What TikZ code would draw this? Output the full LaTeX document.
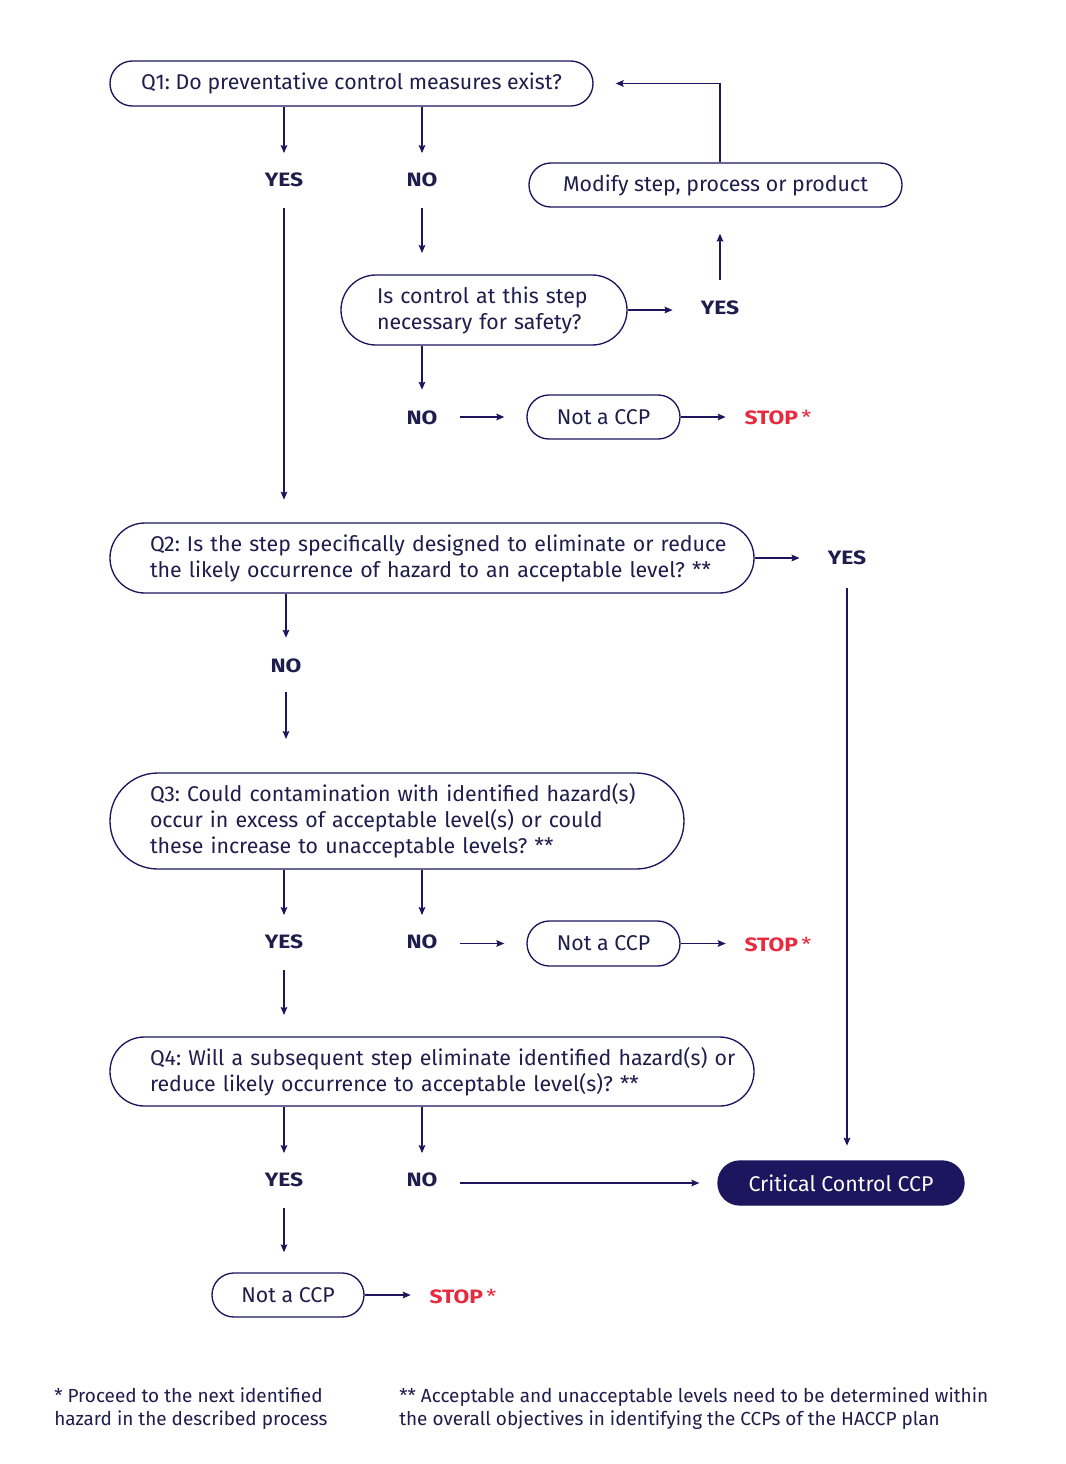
\documentclass[tikz,border=0pt]{standalone}
\usepackage{fontspec}
\setmainfont{Fira Sans}
\newfontfamily\lblfont[FakeStretch=1.18]{Fira Sans}
\usetikzlibrary{arrows.meta}
\definecolor{navy}{HTML}{1B165E}
\definecolor{ink}{HTML}{1E1D4C}
\definecolor{stopred}{HTML}{E8293E}
\newcommand\mainsize{\frenchspacing\fontsize{16pt}{19.5pt}\selectfont}
\newcommand\stoptxt{\textbf{STOP}\,*}
\begin{document}
\begin{tikzpicture}[x=0.75pt,y=-0.75pt,
  box/.style={draw=navy, line width=1pt, text=ink, font=\mainsize, inner sep=0pt},
  leftbox/.style={box, align=left, text width=#1},
  lbl/.style={text=ink, font=\lblfont\fontsize{14.5pt}{17pt}\selectfont\bfseries, inner sep=0pt, text height=10pt, text depth=0pt},
  stoplbl/.style={text=stopred, font=\lblfont\fontsize{14.5pt}{17pt}\selectfont, inner sep=0pt, text height=10pt, text depth=0pt},
  note/.style={text=ink, font=\frenchspacing\fontsize{14.2pt}{17.25pt}\selectfont, align=left, inner sep=0pt, anchor=west},
  arr/.style={draw=navy, line width=1pt, -{Stealth[length=6pt,width=5pt,inset=1pt]}}
]
\fill[white] (0,0) rectangle (1066,1464);
\useasboundingbox (0,0) rectangle (1066,1464);

% boxes
\node[box, minimum width=362.25pt, minimum height=33.75pt, rounded corners=16.8pt] (q1) at (351.5,83.5) {Q1: Do preventative control measures exist?};
\node[box, minimum width=279.75pt, minimum height=33pt, rounded corners=16.4pt] (mod) at (715.5,185) {Modify step, process or product};
\node[leftbox=160.5pt, minimum width=214.5pt, minimum height=52.5pt, rounded corners=26.2pt] (ctl) at (484,310) {\mbox{Is control at this step}\\\mbox{necessary for safety?}};
\node[box, minimum width=114.75pt, minimum height=33pt, rounded corners=16.4pt] (ncp1) at (603.5,417) {Not a CCP};
\node[leftbox=423pt, minimum width=483pt, minimum height=52.5pt, rounded corners=26.2pt] (q2) at (432,558) {\mbox{Q2: Is the step specifically designed to eliminate or reduce}\\\mbox{the likely occurrence of hazard to an acceptable level? **}};
\node[leftbox=370.5pt, minimum width=430.5pt, minimum height=72pt, rounded corners=35.9pt] (q3) at (397,821) {\mbox{Q3: Could contamination with identified hazard(s)}\\\mbox{occur in excess of acceptable level(s) or could}\\\mbox{these increase to unacceptable levels? **}};
\node[box, minimum width=114.75pt, minimum height=33.75pt, rounded corners=16.8pt] (ncp2) at (603.5,943.5) {Not a CCP};
\node[leftbox=423pt, minimum width=483pt, minimum height=51.75pt, rounded corners=25.8pt] (q4) at (432,1071.5) {\mbox{Q4: Will a subsequent step eliminate identified hazard(s) or}\\\mbox{reduce likely occurrence to acceptable level(s)? **}};
\node[box, fill=navy, text=white, minimum width=184.5pt, minimum height=33pt, rounded corners=16.4pt] (ccp) at (841,1183) {Critical Control CCP};
\node[box, minimum width=114pt, minimum height=33pt, rounded corners=16.4pt] (ncp3) at (288,1295) {Not a CCP};

% labels
\node[lbl] (yes1) at (284,180) {YES};
\node[lbl] (no1) at (422,180) {NO};
\node[lbl] (yes2) at (720,308) {YES};
\node[lbl] (no2) at (422,418) {NO};
\node[stoplbl] (stop1) at (778,418) {\stoptxt};
\node[lbl] (yes3) at (847,558) {YES};
\node[lbl] (no3) at (286,666) {NO};
\node[lbl] (yes4) at (284,942) {YES};
\node[lbl] (no4) at (422,942) {NO};
\node[stoplbl] (stop2) at (778,945) {\stoptxt};
\node[lbl] (yes5) at (284,1180) {YES};
\node[lbl] (no5) at (422,1180) {NO};
\node[stoplbl] (stop3) at (463,1297) {\stoptxt};

% footnotes
\node[note] (fn1) at (54,1408.5) {* Proceed to the next identified\\hazard in the described process};
\node[note] (fn2) at (399,1408.5) {** Acceptable and unacceptable levels need to be determined within\\the overall objectives in identifying the CCPs of the HACCP plan};

% connectors
\draw[arr, shorten >=15pt] (yes1 |- q1.south) -- (yes1.north);
\draw[arr, shorten >=15pt] (no1 |- q1.south) -- (no1.north);
\draw[arr, shorten <=16pt, shorten >=17pt] (yes1.south) -- (yes1 |- q2.north);
\draw[arr, shorten <=16pt, shorten >=16pt] (no1.south) -- (no1 |- ctl.north);
\draw[arr, shorten >=21pt] (ctl.east) -- (yes2.west |- ctl.east);
\draw[arr, shorten <=16pt, shorten >=19.5pt] (yes2.north) -- (yes2 |- mod.south);
\draw[arr, shorten >=16.5pt] (yes2 |- mod.north) |- (q1.east);
\draw[arr, shorten >=16pt] (no2 |- ctl.south) -- (no2.north);
\draw[arr, shorten <=16.5pt, shorten >=16.5pt] (no2.east |- ncp1.west) -- (ncp1.west);
\draw[arr, shorten >=14pt] (ncp1.east) -- (stop1.west |- ncp1.east);
\draw[arr, shorten >=21pt] (q2.east) -- (yes3.west |- q2.east);
\draw[arr, shorten <=17pt, shorten >=11pt] (yes3.south) -- (yes3 |- ccp.north);
\draw[arr, shorten >=16pt] (no3 |- q2.south) -- (no3.north);
\draw[arr, shorten <=14pt, shorten >=25pt] (no3.south) -- (no3 |- q3.north);
\draw[arr, shorten >=15pt] (yes4 |- q3.south) -- (yes4.north);
\draw[arr, shorten >=15pt] (no4 |- q3.south) -- (no4.north);
\draw[arr, shorten <=16.5pt, shorten >=16.5pt] (no4.east |- ncp2.west) -- (ncp2.west);
\draw[arr, shorten >=14pt] (ncp2.east) -- (stop2.west |- ncp2.east);
\draw[arr, shorten <=16pt, shorten >=16pt] (yes4.south) -- (yes4 |- q4.north);
\draw[arr, shorten >=15pt] (yes5 |- q4.south) -- (yes5.north);
\draw[arr, shorten >=15pt] (no5 |- q4.south) -- (no5.north);
\draw[arr, shorten <=16.5pt, shorten >=13.5pt] (no5.east |- ccp.west) -- (ccp.west);
\draw[arr, shorten <=16pt, shorten >=15pt] (yes5.south) -- (yes5 |- ncp3.north);
\draw[arr, shorten >=14pt] (ncp3.east) -- (stop3.west |- ncp3.east);
\end{tikzpicture}
\end{document}
